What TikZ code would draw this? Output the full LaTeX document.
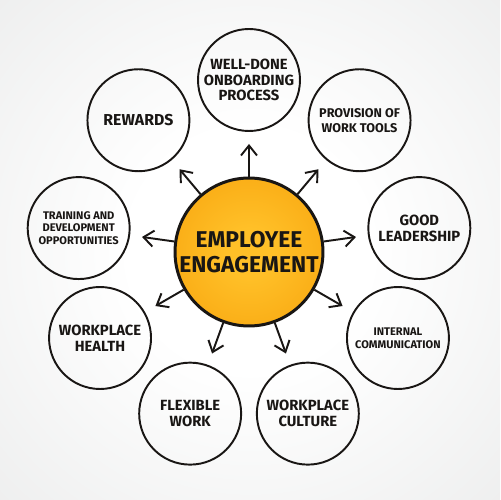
\documentclass[tikz,border=0pt]{standalone}
\usepackage{fontspec}
\setmainfont{Fira Sans}
\usetikzlibrary{shapes,arrows.meta,positioning}

\definecolor{hubinner}{RGB}{255,192,40}
\definecolor{hubouter}{RGB}{244,150,0}
\definecolor{bgedge}{RGB}{228,229,229}
\definecolor{ink}{RGB}{25,22,20}

\pgfdeclareradialshading{backdrop}{\pgfpointorigin}{color(0bp)=(white); color(12bp)=(white); color(50bp)=(bgedge)}
\pgfdeclareradialshading{hubglow}{\pgfpointorigin}{color(0bp)=(hubinner); color(8bp)=(hubinner); color(50bp)=(hubouter)}

\begin{document}
\begin{tikzpicture}[
    x=0.02cm, y=0.02cm,
    topic/.style={
        circle,
        draw=ink,
        line width=1.1pt,
        minimum size=2.04cm,
        inner sep=0pt,
        text=ink,
        align=center,
        font=\bfseries\fontsize{8.4}{9}\selectfont
    },
    hub/.style={
        circle,
        draw=ink,
        line width=1.7pt,
        minimum size=2.96cm,
        inner sep=0pt,
        shading=hubglow,
        text=ink,
        align=center,
        font=\bfseries\fontsize{13}{14}\selectfont
    },
    small/.style={font=\bfseries\fontsize{6.3}{7.2}\selectfont},
    spoke/.style={
        -{Straight Barb[length=2mm,width=3.2mm]},
        line width=1.1pt,
        draw=ink,
        shorten >=0.24cm
    }
]

    % Light backdrop, also fixes the margins
    \shade[shading=backdrop] (-249,-248) rectangle (251,252);
    \useasboundingbox (-249,-248) rectangle (251,252);

    % Centre node
    \node[hub] (engage) at (0,0) {EMPLOYEE\\ENGAGEMENT};

    % Ring of topics, about 40 degrees apart
    \node[topic] (onboard) at (90:172) {WELL-DONE\\ONBOARDING\\PROCESS};
    \node[topic, font=\bfseries\fontsize{7.2}{8.4}\selectfont] (tools) at (50:172) {PROVISION OF\\WORK TOOLS};
    \node[topic] (leader) at (8:172) {GOOD\\LEADERSHIP};
    \node[topic, small] (comm) at (-30:172) {INTERNAL\\COMMUNICATION};
    \node[topic] (culture) at (-70:172) {WORKPLACE\\CULTURE};
    \node[topic] (flex) at (-110:172) {FLEXIBLE\\WORK};
    \node[topic] (health) at (-150:172) {WORKPLACE\\HEALTH};
    \node[topic, small] (training) at (172:172) {TRAINING AND\\DEVELOPMENT\\OPPORTUNITIES};
    \node[topic, font=\bfseries\fontsize{9}{10}\selectfont] (rewards) at (130:172) {REWARDS};

    % Arrows from the centre out to each topic
    \draw[spoke] (engage) -- (onboard);
    \draw[spoke] (engage) -- (tools);
    \draw[spoke] (engage) -- (leader);
    \draw[spoke] (engage) -- (comm);
    \draw[spoke] (engage) -- (culture);
    \draw[spoke] (engage) -- (flex);
    \draw[spoke] (engage) -- (health);
    \draw[spoke] (engage) -- (training);
    \draw[spoke] (engage) -- (rewards);

\end{tikzpicture}
\end{document}
